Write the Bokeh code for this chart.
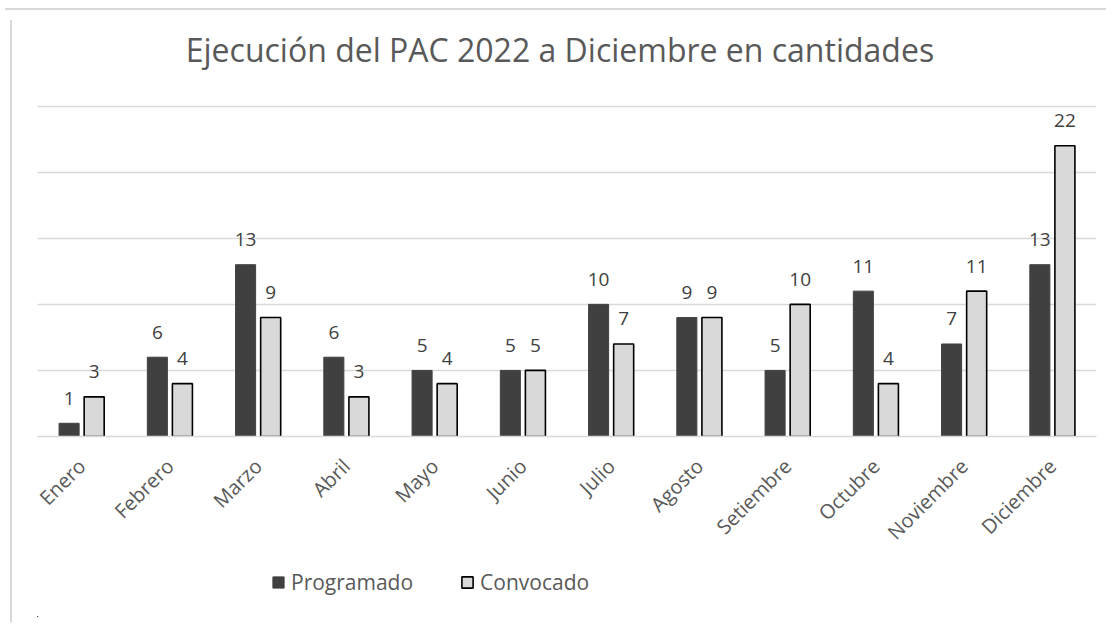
import math
from bokeh.plotting import figure
from bokeh.layouts import column, row
from bokeh.models import (ColumnDataSource, FactorRange, Range1d, FixedTicker,
                          Legend, LegendItem, Label, Div)
from bokeh.transform import dodge
from bokeh.core.properties import value
from bokeh.embed import file_html
from bokeh.resources import INLINE

months = ["Enero", "Febrero", "Marzo", "Abril", "Mayo", "Junio", "Julio",
          "Agosto", "Setiembre", "Octubre", "Noviembre", "Diciembre"]
programado = [1, 6, 13, 6, 5, 5, 10, 9, 5, 11, 7, 13]
convocado = [3, 4, 9, 3, 4, 5, 7, 9, 10, 4, 11, 22]
y_ticks = [0, 5, 10, 15, 20, 25]
series_names = ["Programado", "Convocado"]
title_text = "Ejecución del PAC 2022 a Diciembre en cantidades"

FONT = "Open Sans"
P_COLOR = "#404040"
C_FILL = "#d9d9d9"
BORDER = "#d9d9d9"

src = ColumnDataSource(dict(
    month=months,
    prog=programado,
    conv=convocado,
    prog_lbl=[str(v) for v in programado],
    conv_lbl=[str(v) for v in convocado],
))

# the frame extends above the top gridline so the title can sit inside it
Y_TOP = 31.1
p = figure(x_range=FactorRange(*months, range_padding=0, factor_padding=0),
           y_range=Range1d(0, Y_TOP),
           width=1093, height=542, output_backend="svg", toolbar_location=None,
           min_border_left=20, min_border_right=14, min_border_top=10,
           min_border_bottom=119)
p.outline_line_color = None
p.background_fill_color = "white"
p.border_fill_color = "white"

p.add_layout(Label(x=5.92, y=29.3, text=title_text, text_align="center",
                   text_baseline="alphabetic", text_font=FONT,
                   text_font_size="32px", text_color="#595959"))

off = 0.142
bw = 0.227
p.vbar(x=dodge("month", -off, range=p.x_range), top="prog", width=bw, source=src,
       fill_color=P_COLOR, line_color=P_COLOR, line_width=1)
p.vbar(x=dodge("month", off, range=p.x_range), top="conv", width=bw, source=src,
       fill_color=C_FILL, line_color="black", line_width=1.6)

p.text(x=dodge("month", -off, range=p.x_range), y="prog", text="prog_lbl", source=src,
       text_font=value(FONT), text_font_size="19px", text_color="#404040",
       text_align="center", text_baseline="middle", y_offset=-25)
p.text(x=dodge("month", off, range=p.x_range), y="conv", text="conv_lbl", source=src,
       text_font=value(FONT), text_font_size="19px", text_color="#404040",
       text_align="center", text_baseline="middle", y_offset=-25)

p.yaxis.visible = False
p.ygrid.ticker = FixedTicker(ticks=y_ticks)
p.ygrid.grid_line_color = "#d9d9d9"
p.ygrid.grid_line_width = 1.5
p.xgrid.grid_line_color = None

ax = p.xaxis[0]
ax.axis_line_color = "#d9d9d9"
ax.axis_line_width = 1.5
ax.major_tick_line_color = None
ax.minor_tick_line_color = None
ax.major_label_orientation = math.pi / 4
ax.major_label_text_font = FONT
ax.major_label_text_font_size = "20px"
ax.major_label_text_color = "#595959"
ax.major_label_standoff = 20

# legend strip below the chart
lg = figure(x_range=Range1d(0, 1093), y_range=Range1d(0, 60),
            width=1093, height=60, output_backend="svg", toolbar_location=None,
            min_border=0)
lg.axis.visible = False
lg.grid.visible = False
lg.outline_line_color = None
lg.border_fill_color = "white"
d1 = lg.vbar(x=[-1000], top=[1], width=1, fill_color=P_COLOR, line_color=P_COLOR)
d2 = lg.vbar(x=[-1000], top=[1], width=1, fill_color=C_FILL, line_color="black",
             line_width=1.6)
legend = Legend(items=[LegendItem(label=series_names[0], renderers=[d1]),
                       LegendItem(label=series_names[1], renderers=[d2])],
                orientation="horizontal", location=(234, 21),
                glyph_width=14, glyph_height=14, label_standoff=6, spacing=47,
                padding=0, margin=0, border_line_color=None,
                background_fill_alpha=0,
                label_text_font=FONT, label_text_font_size="21px",
                label_text_color="#595959")
lg.add_layout(legend, "center")

# chart-area border (top and left edges visible in the reference)
top_edge = Div(text="", width=1101, height=5,
               styles={"border-bottom": f"2px solid {BORDER}", "box-sizing": "border-box"})
left_edge = Div(text="", width=7, height=602,
                styles={"border-right": f"2px solid {BORDER}", "box-sizing": "border-box"})

layout = column(top_edge, row(left_edge, column(p, lg, spacing=0), spacing=0), spacing=0)
open("out.html", "w").write(file_html(layout, INLINE))
